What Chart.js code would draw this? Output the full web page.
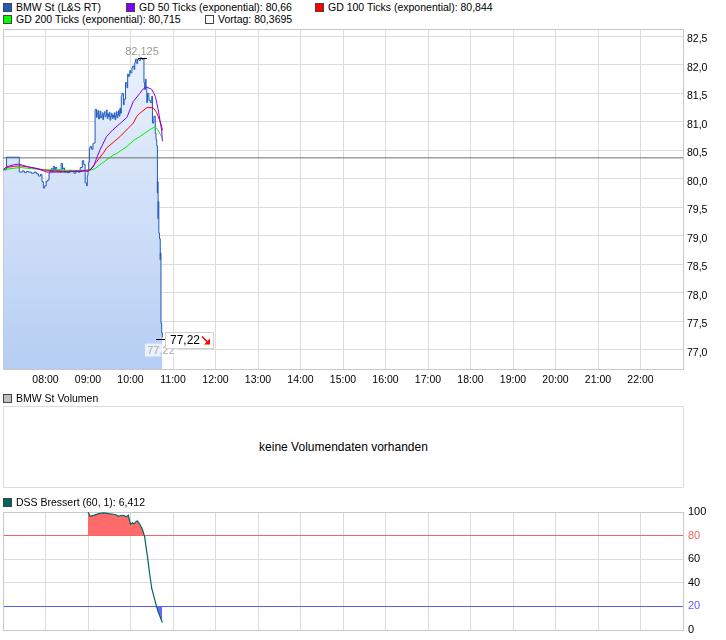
<!DOCTYPE html>
<html>
<head>
<meta charset="utf-8">
<script src="https://cdn.jsdelivr.net/npm/chart.js@4.4.1/dist/chart.umd.min.js"></script>
<style>
  body { margin: 0; background: #fff; }
  #wrap { position: relative; width: 726px; height: 640px; overflow: hidden; font-family: "Liberation Sans", Arial, sans-serif; }
  canvas { position: absolute; left: 0; }
  .leg { position: absolute; font-size: 10.5px; line-height: 12px; white-space: nowrap; color: #000; }
  .leg i { display: inline-block; width: 7px; height: 7px; border: 1px solid #444; margin-right: 4px; vertical-align: -1px; }
  #vol { position: absolute; left: 3px; top: 406px; width: 681px; height: 82px; border: 1px solid #dcdcdc; box-sizing: border-box; text-align: center; line-height: 80px; font-size: 12px; }
</style>
</head>
<body>
<div id="wrap">
  <canvas id="main" width="726" height="370" style="top:25px"></canvas>
  <div id="vol">keine Volumendaten vorhanden</div>
  <canvas id="dss" width="726" height="135" style="top:505px"></canvas>
</div>
<script>
// x axis
const hourLabels = ["08:00", "09:00", "10:00", "11:00", "12:00", "13:00", "14:00", "15:00",
  "16:00", "17:00", "18:00", "19:00", "20:00", "21:00", "22:00"];
const priceTicks = [77.0, 77.5, 78.0, 78.5, 79.0, 79.5, 80.0, 80.5, 81.0, 81.5, 82.0, 82.5];
const dssTicks = [0, 20, 40, 60, 80, 100];

// BMW St (L&S RT) ticks
const priceTimes = [
  "07:00", "07:05", "07:05", "07:23", "07:23", "07:27", "07:30", "07:33", "07:36", "07:40",
  "07:44", "07:47", "07:50", "07:53", "07:55", "07:57", "07:59", "08:01", "08:03", "08:05",
  "08:06", "08:08", "08:10", "08:11", "08:13", "08:14", "08:16", "08:18", "08:20", "08:22",
  "08:24", "08:25", "08:27", "08:29", "08:31", "08:34", "08:37", "08:40", "08:43", "08:46",
  "08:49", "08:52", "08:54", "08:56", "08:58", "08:59", "09:00", "09:01", "09:02", "09:03",
  "09:05", "09:07", "09:08", "09:10", "09:12", "09:13", "09:14", "09:15", "09:16", "09:17",
  "09:18", "09:19", "09:20", "09:21", "09:22", "09:23", "09:24", "09:25", "09:26", "09:27",
  "09:28", "09:29", "09:30", "09:31", "09:32", "09:33", "09:34", "09:35", "09:36", "09:37",
  "09:38", "09:39", "09:40", "09:41", "09:42", "09:43", "09:44", "09:45", "09:46", "09:47",
  "09:48", "09:50", "09:51", "09:53", "09:55", "09:56", "09:57", "09:59", "10:00", "10:02",
  "10:03", "10:05", "10:06", "10:07", "10:09", "10:10", "10:12", "10:14", "10:16", "10:18",
  "10:19", "10:20", "10:21", "10:22", "10:23", "10:24", "10:26", "10:28", "10:30", "10:31",
  "10:33", "10:35", "10:36", "10:37", "10:38", "10:38", "10:38", "10:39", "10:39", "10:40",
  "10:40", "10:41", "10:42", "10:42", "10:43", "10:43", "10:44", "10:45", "10:45"
];
const priceValues = [
  80.16, 80.16, 80.38, 80.38, 80.13, 80.12, 80.14, 80.11, 80.13, 80.12,
  80.10, 80.12, 80.09, 80.05, 80.08, 79.95, 79.84, 79.88, 79.96, 79.98,
  80.10, 80.13, 80.18, 80.12, 80.22, 80.15, 80.20, 80.13, 80.16, 80.12,
  80.27, 80.17, 80.19, 80.12, 80.14, 80.11, 80.15, 80.13, 80.10, 80.14,
  80.12, 80.20, 80.32, 80.25, 79.93, 79.88, 80.06, 80.15, 80.30, 80.54,
  80.57, 80.52, 80.62, 80.63, 81.22, 81.08, 81.15, 81.20, 81.05, 81.12,
  81.19, 81.07, 81.10, 81.16, 81.04, 81.13, 81.18, 81.09, 81.11, 81.21,
  81.06, 81.14, 81.09, 81.17, 81.03, 81.10, 81.15, 81.06, 81.12, 81.08,
  81.16, 81.04, 81.11, 81.18, 81.07, 81.13, 81.20, 81.10, 81.24, 81.15,
  81.45, 81.50, 81.30, 81.40, 81.69, 81.60, 81.84, 81.80, 81.90, 81.86,
  81.95, 81.98, 81.92, 82.04, 82.10, 82.02, 82.10, 82.08, 82.125, 82.10,
  82.11, 81.69, 81.57, 81.75, 81.62, 81.34, 81.50, 81.38, 81.34, 81.45,
  80.98, 81.10, 80.80, 80.69, 80.58, 80.05, 79.75, 79.95, 79.30, 79.60,
  79.08, 79.05, 78.95, 78.58, 78.70, 78.35, 77.47, 77.30, 77.22
];

// GD 50 Ticks (exponential)
const ema50Times = ["07:01", "07:05", "07:10", "07:16", "07:22", "07:28", "07:33", "07:40", "07:48", "07:55",
  "08:02", "08:10", "08:20", "08:30", "08:40", "08:49", "08:56", "09:00", "09:04", "09:08",
  "09:12", "09:17", "09:26", "09:35", "09:45", "09:55", "10:04", "10:13", "10:18", "10:23",
  "10:30", "10:35", "10:39", "10:42", "10:44", "10:45"];
const ema50Values = [80.17, 80.21, 80.23, 80.25, 80.26, 80.24, 80.22, 80.20, 80.18, 80.15,
  80.12, 80.12, 80.12, 80.12, 80.13, 80.13, 80.14, 80.13, 80.17, 80.22,
  80.36, 80.51, 80.74, 80.86, 80.97, 81.08, 81.36, 81.50, 81.58, 81.61,
  81.57, 81.45, 81.22, 81.00, 80.85, 80.66];

// GD 100 Ticks (exponential)
const ema100Times = ["07:01", "07:05", "07:15", "07:24", "07:35", "07:45", "07:57", "08:10", "08:30", "08:50",
  "09:03", "09:12", "09:22", "09:26", "09:45", "10:04", "10:09", "10:13", "10:23", "10:32",
  "10:37", "10:41", "10:44", "10:45"];
const ema100Values = [80.17, 80.20, 80.22, 80.23, 80.21, 80.19, 80.16, 80.14, 80.13, 80.14,
  80.16, 80.30, 80.46, 80.54, 80.74, 80.98, 81.10, 81.15, 81.25, 81.25,
  81.16, 81.03, 80.92, 80.844];

// GD 200 Ticks (exponential)
const ema200Times = ["07:01", "07:05", "07:24", "07:40", "07:57", "08:30", "09:03", "09:10", "09:17", "09:36",
  "09:41", "09:55", "10:05", "10:13", "10:28", "10:34", "10:38", "10:42", "10:44", "10:45"];
const ema200Values = [80.16, 80.17, 80.20, 80.18, 80.16, 80.15, 80.15, 80.18, 80.25, 80.42,
  80.45, 80.57, 80.68, 80.74, 80.87, 80.91, 80.88, 80.78, 80.74, 80.715];

const vortag = 80.3695;

// DSS Bressert (60, 1)
const dssTimes = ["09:00", "09:03", "09:08", "09:15", "09:22", "09:29", "09:36", "09:40", "09:43", "09:47",
  "09:50", "09:54", "09:57", "10:00", "10:03", "10:05", "10:08", "10:10", "10:13", "10:16",
  "10:18", "10:20", "10:22", "10:24", "10:27", "10:30", "10:35", "10:39", "10:45"];
const dssValues = [100, 96.4, 97.2, 98.6, 99.2, 98.6, 98.1, 97.5, 96.4, 97.0,
  97.2, 96.0, 97.2, 89.6, 90.8, 89.9, 92.0, 92.4, 89.6, 86.5,
  83.1, 78.9, 70.0, 62.0, 47.9, 35.2, 23.9, 15.5, 6.412];

const toH = (t) => { const [h, m] = t.split(":").map(Number); return h + m / 60; };
const fmt = (v) => String(v).replace(".", ",");
const pts = (times, vals) => times.map((t, i) => ({ x: toH(t), y: vals[i] }));

// Legends
const legendItems = [
  [3, 1, "#1f5bbd", "BMW St (L&S RT)"],
  [126, 1, "#8000ff", "GD 50 Ticks (exponential): " + fmt(ema50Values[ema50Values.length - 1])],
  [315, 1, "#ff0000", "GD 100 Ticks (exponential): " + fmt(ema100Values[ema100Values.length - 1])],
  [3, 13, "#00ff00", "GD 200 Ticks (exponential): " + fmt(ema200Values[ema200Values.length - 1])],
  [205, 13, "#ffffff", "Vortag: " + fmt(vortag)],
  [3, 392, "#c0c0c0", "BMW St Volumen"],
  [3, 496, "#006660", "DSS Bressert (60, 1): " + fmt(dssValues[dssValues.length - 1])]
];
const wrap = document.getElementById("wrap");
legendItems.forEach(([x, y, c, text]) => {
  const d = document.createElement("div");
  d.className = "leg";
  d.style.left = x + "px";
  d.style.top = y + "px";
  d.innerHTML = '<i style="background:' + c + '"></i>';
  d.appendChild(document.createTextNode(text));
  wrap.appendChild(d);
});

Chart.defaults.font.family = '"Liberation Sans", Arial, sans-serif';
Chart.defaults.color = "#000";

// plot frame
const framePlugin = {
  id: "frame",
  beforeDatasetsDraw(chart) {
    const { left, top, right, bottom } = chart.chartArea;
    const ctx = chart.ctx;
    ctx.save();
    ctx.strokeStyle = "#c8c8c8";
    ctx.lineWidth = 1;
    ctx.strokeRect(Math.round(left - 0.5) + 0.5, Math.round(top - 0.5) + 0.5,
      Math.round(right - left), Math.round(bottom - top));
    ctx.restore();
  }
};

// high and last price markers
const markerPlugin = {
  id: "markers",
  afterDatasetsDraw(chart) {
    const ctx = chart.ctx, xs = chart.scales.x, ys = chart.scales.y;
    let mi = 0;
    priceValues.forEach((v, i) => { if (v > priceValues[mi]) mi = i; });
    const mx = Math.round(xs.getPixelForValue(toH(priceTimes[mi])));
    const my = Math.round(ys.getPixelForValue(priceValues[mi])) + 0.5;
    ctx.save();
    ctx.strokeStyle = "#000";
    ctx.lineWidth = 1;
    ctx.beginPath(); ctx.moveTo(mx - 4, my); ctx.lineTo(mx + 5, my); ctx.stroke();
    ctx.font = '11px "Liberation Sans", Arial, sans-serif';
    ctx.fillStyle = "#999";
    ctx.textAlign = "center";
    ctx.textBaseline = "alphabetic";
    ctx.fillText(fmt(priceValues[mi]), mx, my - 4);

    const li = priceValues.length - 1;
    const lx = Math.round(xs.getPixelForValue(toH(priceTimes[li])));
    const ly = Math.round(ys.getPixelForValue(priceValues[li])) + 2.5;
    // grey value under the line end
    ctx.fillStyle = "rgba(255,255,255,0.7)";
    ctx.fillRect(lx - 17, ly + 4, 33, 13);
    ctx.fillStyle = "#aaa";
    ctx.textBaseline = "middle";
    ctx.fillText(fmt(priceValues[li]), lx - 1, ly + 11);
    // tick line
    ctx.strokeStyle = "#000";
    ctx.beginPath(); ctx.moveTo(lx - 6, ly); ctx.lineTo(lx + 3, ly); ctx.stroke();
    // boxed label
    ctx.fillStyle = "#fff";
    ctx.fillRect(lx + 3.5, ly - 7, 48, 16);
    ctx.strokeStyle = "#d0d0d0";
    ctx.strokeRect(lx + 3.5, ly - 7, 48, 16);
    ctx.fillStyle = "#000";
    ctx.textAlign = "left";
    ctx.font = '12px "Liberation Sans", Arial, sans-serif';
    ctx.fillText(fmt(priceValues[li]), lx + 8, ly + 1);
    // red arrow
    const ax = lx + 40, ay = ly - 3;
    ctx.strokeStyle = "#ff0000";
    ctx.lineWidth = 1.6;
    ctx.beginPath(); ctx.moveTo(ax, ay); ctx.lineTo(ax + 5, ay + 5); ctx.stroke();
    ctx.fillStyle = "#ff0000";
    ctx.beginPath(); ctx.moveTo(ax + 8, ay + 8); ctx.lineTo(ax + 8, ay + 2); ctx.lineTo(ax + 2, ay + 8); ctx.closePath(); ctx.fill();
    ctx.restore();
  }
};

const xAxis = (showLabels, h) => ({
  type: "linear",
  min: 7,
  max: 23,
  bounds: "data",
  afterBuildTicks: (s) => { s.ticks = hourLabels.map((l) => ({ value: toH(l) })); },
  afterFit: (s) => { s.height = h; s.paddingLeft = 0; s.paddingRight = 0; },
  grid: { color: "#dcdcdc", drawTicks: false },
  border: { display: false },
  ticks: {
    display: showLabels, autoSkip: false, maxRotation: 0, padding: 5,
    font: { size: 10.5 }, callback: (v, i) => hourLabels[i]
  }
});

new Chart(document.getElementById("main"), {
  type: "line",
  data: {
    datasets: [
      { data: pts(ema50Times, ema50Values), borderColor: "#8000ff", borderWidth: 1, pointRadius: 0, fill: false },
      { data: pts(ema100Times, ema100Values), borderColor: "#ff0000", borderWidth: 1, pointRadius: 0, fill: false },
      { data: pts(ema200Times, ema200Values), borderColor: "#00f000", borderWidth: 1, pointRadius: 0, fill: false },
      {
        data: pts(priceTimes, priceValues),
        borderColor: "#1f5bbd",
        borderWidth: 1,
        pointRadius: 0,
        stepped: "after",
        fill: "start",
        backgroundColor: (c) => {
          const a = c.chart.chartArea;
          if (!a) return "#dbe7fa";
          const g = c.chart.ctx.createLinearGradient(0, a.top, 0, a.bottom);
          g.addColorStop(0, "#eef4fd");
          g.addColorStop(1, "#b6cef4");
          return g;
        }
      },
      { data: [{ x: 7, y: vortag }, { x: 23, y: vortag }], borderColor: "#6e6e6e", borderWidth: 1, pointRadius: 0, fill: false }
    ]
  },
  options: {
    responsive: false,
    animation: false,
    layout: { padding: { left: 3, top: 4, right: 0, bottom: 0 } },
    plugins: { legend: { display: false }, tooltip: { enabled: false }, filler: { drawTime: "beforeDatasetsDraw" } },
    scales: {
      x: xAxis(true, 26),
      y: {
        type: "linear",
        position: "right",
        min: 76.665,
        max: 82.63,
        bounds: "data",
        afterBuildTicks: (s) => { s.ticks = priceTicks.map((v) => ({ value: v })); },
        afterFit: (s) => { s.width = 43; s.paddingTop = 0; s.paddingBottom = 0; },
        grid: { color: "#dcdcdc", drawTicks: false },
        border: { display: false },
        ticks: { padding: 4, labelOffset: 3, font: { size: 10.5 }, callback: (v) => v.toFixed(1).replace(".", ",") }
      }
    }
  },
  plugins: [framePlugin, markerPlugin]
});

new Chart(document.getElementById("dss"), {
  type: "line",
  data: {
    datasets: [
      {
        data: pts(dssTimes, dssValues), borderColor: "#00665e", borderWidth: 1.2, pointRadius: 0,
        fill: { target: { value: 80 }, above: "#ff6a6a", below: "rgba(0,0,0,0)" }
      },
      {
        data: pts(dssTimes, dssValues), borderWidth: 0, borderColor: "rgba(0,0,0,0)", pointRadius: 0,
        fill: { target: { value: 20 }, above: "rgba(0,0,0,0)", below: "#6a6aff" }
      }
    ]
  },
  options: {
    responsive: false,
    animation: false,
    layout: { padding: { left: 3, top: 7, right: 0, bottom: 0 } },
    plugins: { legend: { display: false }, tooltip: { enabled: false } },
    scales: {
      x: xAxis(false, 10),
      y: {
        type: "linear",
        position: "right",
        min: 0,
        max: 100,
        bounds: "data",
        afterBuildTicks: (s) => { s.ticks = dssTicks.map((v) => ({ value: v })); },
        afterFit: (s) => { s.width = 43; s.paddingTop = 0; s.paddingBottom = 0; },
        grid: {
          drawTicks: false,
          color: (c) => c.tick && c.tick.value === 80 ? "#f06464" : c.tick && c.tick.value === 20 ? "#5a5aff" : "#dcdcdc"
        },
        border: { display: false },
        ticks: {
          padding: 5, font: { size: 11 },
          color: (c) => c.tick && c.tick.value === 80 ? "#f06464" : c.tick && c.tick.value === 20 ? "#5a5aff" : "#000"
        }
      }
    }
  },
  plugins: [framePlugin]
});
</script>
</body>
</html>
